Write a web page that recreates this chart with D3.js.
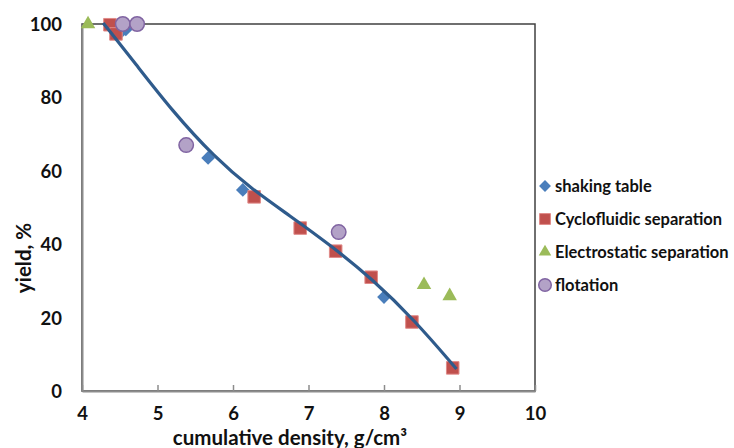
<!DOCTYPE html>
<html>
<head>
<meta charset="utf-8">
<script src="https://cdn.jsdelivr.net/npm/d3@7"></script>
<style>
  body { margin: 0; background: #fff; }
  svg { display: block; font-family: Lato, "Open Sans", sans-serif; font-weight: bold; }
</style>
</head>
<body>
<svg id="chart" width="734" height="448"></svg>
<script>
// Series: cumulative density (g/cm3) vs yield (%)
const shakingX = [4.50, 5.67, 6.13, 8.00, 4.58];
const shakingY = [97.5, 63.5, 54.8, 25.6, 98.5];

const cycloX = [4.37, 4.45, 6.28, 6.89, 7.36, 7.83, 8.37, 8.91];
const cycloY = [99.8, 97.3, 52.9, 44.4, 38.1, 31.0, 18.8, 6.3];

const electroX = [4.08, 8.53, 8.87];
const electroY = [100, 28.9, 25.9];

const flotationX = [4.54, 4.73, 5.38, 7.40];
const flotationY = [100, 100, 67.0, 43.3];

// Fitted trend line (control points of a smooth curve)
const trendX = [4.28, 4.70, 5.20, 5.75, 6.25, 6.75, 7.30, 7.85, 8.40, 8.96];
const trendY = [100.3, 89.4, 76.2, 63.8, 55.0, 47.8, 39.6, 30.4, 19.4, 6.0];

const xTicks = [4, 5, 6, 7, 8, 9, 10];
const yTicks = [0, 20, 40, 60, 80, 100];

const seriesNames = ["shaking table", "Cyclofluidic separation", "Electrostatic separation", "flotation"];

const svg = d3.select("#chart");
const plotLeft = 82, plotRight = 535, plotTop = 24, plotBottom = 391;

const x = d3.scaleLinear().domain([4, 10]).range([plotLeft, plotRight]);
const y = d3.scaleLinear().domain([0, 100]).range([plotBottom, plotTop]);

// plot frame
svg.append("rect")
  .attr("x", plotLeft).attr("y", plotTop)
  .attr("width", plotRight - plotLeft).attr("height", plotBottom - plotTop)
  .attr("fill", "none").attr("stroke", "#404040").attr("stroke-width", 1.5);

// x axis with inward ticks
const xAxis = svg.append("g").attr("transform", `translate(0,${plotBottom})`)
  .call(d3.axisBottom(x).tickValues(xTicks).tickSize(0).tickPadding(0).tickFormat(""));
xAxis.select(".domain").attr("stroke", "#8c8c8c").attr("stroke-width", 2);
xAxis.selectAll(".tick").append("line")
  .attr("y1", 0).attr("y2", -6).attr("stroke", "#8c8c8c").attr("stroke-width", 1.5);
xAxis.selectAll(".tick").append("text")
  .attr("y", 29).attr("fill", "#111").attr("font-size", 18.5).attr("text-anchor", "middle")
  .attr("font-family", "Lato, sans-serif").attr("font-weight", "bold")
  .text(d => d);

// y axis
const yAxis = svg.append("g").attr("transform", `translate(${plotLeft},0)`)
  .call(d3.axisLeft(y).tickValues(yTicks).tickSize(0).tickPadding(20));
yAxis.select(".domain").attr("stroke", "#8c8c8c").attr("stroke-width", 2);
yAxis.selectAll(".tick text")
  .attr("fill", "#111").attr("font-size", 18.5).attr("font-family", "Lato, sans-serif")
  .attr("font-weight", "bold").attr("dy", "0.35em");

// axis titles
svg.append("text")
  .attr("x", 290).attr("y", 445)
  .attr("text-anchor", "middle").attr("font-size", 20.5).attr("fill", "#111")
  .text("cumulative density, g/cm³");

svg.append("text")
  .attr("transform", "translate(31,258) rotate(-90)")
  .attr("text-anchor", "middle").attr("font-size", 20.5).attr("fill", "#111")
  .text("yield, %");

// marker styles
const styles = [
  { sym: d3.symbolDiamond2, size: 120, fill: "#4a7ebb", stroke: "#4a7ebb", sw: 0 },
  { sym: d3.symbolSquare2, size: 200, fill: "#c0504d", stroke: "#e08a88", sw: 1 },
  { sym: d3.symbolTriangle2, size: 150, fill: "#9bbb59", stroke: "#9bbb59", sw: 0 },
  { sym: d3.symbolCircle, size: 165, fill: "#b3a2c7", stroke: "#8064a2", sw: 1.5 }
];

const seriesData = [
  d3.zip(shakingX, shakingY),
  d3.zip(cycloX, cycloY),
  d3.zip(electroX, electroY),
  d3.zip(flotationX, flotationY)
];

seriesData.forEach((pts, i) => {
  const s = styles[i];
  svg.append("g").selectAll("path").data(pts).join("path")
    .attr("d", d3.symbol(s.sym, s.size))
    .attr("transform", d => `translate(${x(d[0])},${y(d[1])})`)
    .attr("fill", s.fill).attr("stroke", s.stroke).attr("stroke-width", s.sw);
});

// trend line
const line = d3.line().x(d => x(d[0])).y(d => y(d[1])).curve(d3.curveBasis);
svg.append("path")
  .datum(d3.zip(trendX, trendY))
  .attr("d", line)
  .attr("fill", "none").attr("stroke", "#2f5b8c").attr("stroke-width", 3.2);

// legend
const legend = svg.append("g");
seriesNames.forEach((name, i) => {
  const s = styles[i];
  const ly = 186 + i * 33;
  legend.append("path")
    .attr("d", d3.symbol(s.sym, s.size * 0.75))
    .attr("transform", `translate(545,${ly})`)
    .attr("fill", s.fill).attr("stroke", s.stroke).attr("stroke-width", s.sw);
  legend.append("text")
    .attr("x", 555).attr("y", ly).attr("dy", "0.35em")
    .attr("font-size", 16.5).attr("fill", "#111")
    .text(name);
});
</script>
</body>
</html>
